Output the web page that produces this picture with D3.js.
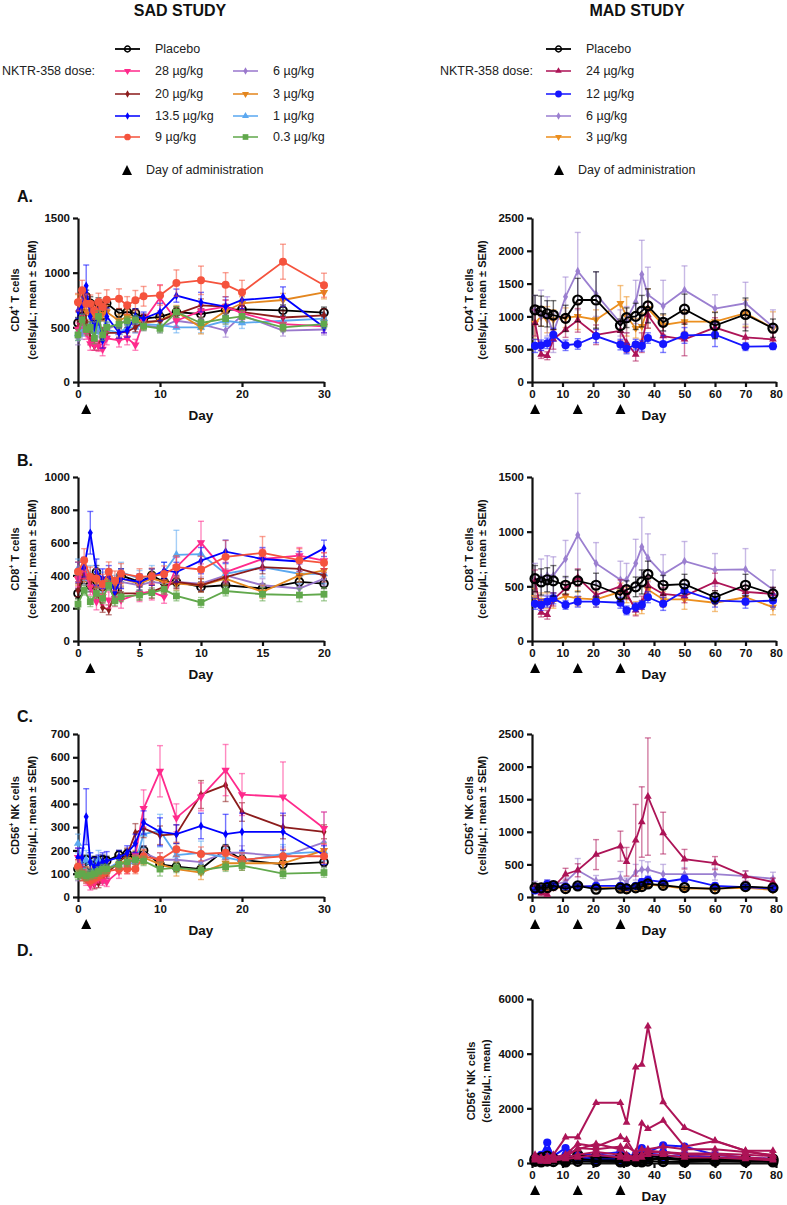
<!DOCTYPE html>
<html><head><meta charset="utf-8">
<script src="https://cdn.jsdelivr.net/npm/d3@7"></script>
<style>
body{margin:0;background:#fff}
svg text{font-family:"Liberation Sans",Arial,Helvetica,sans-serif}
</style>
</head><body>
<svg id="c" width="787" height="1205"></svg>
<script>
// ---------------- DATA ----------------
const sadGroups = ["Placebo","28 µg/kg","20 µg/kg","13.5 µg/kg","9 µg/kg","6 µg/kg","3 µg/kg","1 µg/kg","0.3 µg/kg"];
const madGroups = ["Placebo","24 µg/kg","12 µg/kg","6 µg/kg","3 µg/kg"];
const sadDays30 = [0,0.5,1,1.5,2,2.5,3,3.5,5,6,7,8,10,12,15,18,20,25,30];
const sadDays20 = [0,0.5,1,1.5,2,2.5,3,3.5,5,6,7,8,10,12,15,18,20];
const madDays = [1,3,5,7,11,15,21,29,31,34,36,38,43,50,60,70,79];
const sadDosingDays = [1];
const madDosingDays = [1,15,29];
const sadXTicks30 = [0,10,20,30];
const sadXTicks20 = [0,5,10,15,20];
const madXTicks = [0,10,20,30,40,50,60,70,80];
const yTicksSadCD4 = [0,500,1000,1500];
const yTicksSadCD8 = [0,200,400,600,800,1000];
const yTicksSadNK = [0,100,200,300,400,500,600,700];
const yTicksMadCD4 = [0,500,1000,1500,2000,2500];
const yTicksMadCD8 = [0,500,1000,1500];
const yTicksMadNK = [0,500,1000,1500,2000,2500];
const yTicksMadNKIndiv = [0,2000,4000,6000];

// SAD CD4 (order = sadGroups)
const sadCD4Means = [
 [540,600,780,720,600,720,610,720,630,640,630,580,595,640,620,660,665,655,635],
 [480,550,450,350,340,330,300,400,380,400,340,560,770,560,650,690,630,530,510],
 [500,600,550,400,330,330,450,450,450,460,500,550,560,620,700,690,640,590,610],
 [650,700,880,600,500,600,380,600,450,470,600,580,640,790,730,690,750,780,500],
 [730,840,716,716,655,732,686,753,762,701,747,784,793,905,930,890,820,1100,885],
 [400,450,480,460,450,470,430,480,530,570,500,520,500,560,530,470,610,470,480],
 [720,680,650,620,600,650,620,640,560,600,580,540,560,640,500,650,720,750,820],
 [440,480,500,520,460,500,420,480,450,500,500,530,520,500,500,560,540,560,580],
 [430,570,480,500,400,600,430,500,530,560,570,510,490,640,540,580,600,500,530]];
const sadCD4Sems = [
 [50,60,60,60,50,50,50,50,40,40,40,40,40,50,50,50,50,50,50],
 [60,60,60,60,50,50,60,60,60,60,50,60,120,60,60,60,60,60,60],
 [60,60,60,60,40,40,50,50,40,40,40,50,50,60,60,60,60,60,60],
 [70,80,190,100,80,80,70,80,50,60,70,60,80,60,90,90,80,90,50],
 [80,90,90,80,80,80,70,90,90,80,90,90,90,120,130,110,110,160,110],
 [60,60,60,60,60,60,60,60,50,50,50,50,50,50,50,60,60,50,50],
 [80,80,80,70,70,70,60,60,60,60,60,60,60,60,60,60,60,60,60],
 [60,60,60,60,60,60,60,60,50,50,50,50,50,50,50,50,50,50,50],
 [50,50,50,50,50,50,50,50,40,40,40,40,40,50,50,50,50,40,40]];

// SAD CD8
const sadCD8Means = [
 [290,390,340,420,330,370,310,400,360,400,360,360,330,340,320,360,350],
 [380,440,330,240,270,250,260,250,290,300,270,450,600,420,500,520,490],
 [310,420,360,290,205,190,290,290,290,300,330,360,340,390,450,440,400],
 [420,450,660,420,380,400,300,380,360,390,430,420,490,545,500,485,565],
 [422,493,391,381,347,422,367,412,391,395,408,450,436,513,537,493,477],
 [360,380,350,330,330,350,320,360,340,360,350,360,350,400,340,320,380],
 [380,400,370,360,350,380,340,380,350,380,360,350,340,380,300,400,430],
 [440,430,400,380,360,380,340,420,380,400,420,525,530,410,450,410,410],
 [225,310,240,290,260,340,245,270,280,295,315,275,235,305,285,280,285]];
const sadCD8Sems = [
 [30,40,40,40,40,40,40,40,30,40,30,30,30,30,30,30,30],
 [50,60,50,50,50,50,50,50,50,50,40,60,130,60,60,50,50],
 [40,40,40,40,30,30,40,40,40,40,40,40,40,40,40,40,40],
 [60,60,130,80,60,60,60,60,50,50,50,60,80,70,70,60,50],
 [60,70,60,60,60,60,60,60,50,50,50,70,80,100,100,70,60],
 [40,40,40,40,40,40,40,40,40,40,40,40,40,40,40,40,40],
 [40,40,40,40,40,40,40,40,40,40,40,40,40,40,40,40,40],
 [60,60,60,60,60,60,60,60,50,60,60,150,80,60,60,60,60],
 [30,30,30,30,30,30,30,30,30,30,30,30,30,30,40,40,40]];

// SAD CD56 NK
const sadNKMeans = [
 [120,130,160,135,155,150,160,155,180,185,175,200,140,130,120,205,160,140,150],
 [170,110,80,50,60,80,70,65,110,130,180,380,540,340,430,545,440,430,295],
 [130,100,80,70,55,60,80,100,150,180,275,295,265,270,440,480,365,300,280],
 [170,170,345,150,130,140,150,155,170,190,230,320,280,270,305,270,280,280,180],
 [130,100,80,70,80,90,100,110,120,120,120,175,160,205,185,190,160,175,175],
 [100,110,100,95,100,110,120,120,140,150,160,190,160,160,150,190,190,175,235],
 [120,110,100,95,100,110,120,120,140,160,170,170,140,120,105,145,145,145,200],
 [230,130,160,150,120,160,100,120,150,140,150,270,285,180,190,170,155,185,195],
 [95,100,90,95,100,110,120,120,140,150,160,155,120,125,115,130,135,100,105]];
const sadNKSems = [
 [20,20,20,20,20,20,20,20,20,20,20,20,20,20,20,20,20,20,20],
 [40,30,30,20,20,20,20,20,30,30,40,80,110,60,60,110,90,150,70],
 [30,30,20,20,20,20,20,20,30,30,40,40,40,40,60,70,40,50,30],
 [40,40,120,40,40,40,40,40,30,30,40,50,60,40,55,85,80,80,40],
 [30,30,20,20,20,20,20,20,20,20,20,30,30,30,30,30,30,30,30],
 [30,30,30,30,30,30,30,30,30,30,30,30,30,30,30,30,30,40,130],
 [30,30,30,30,30,30,30,30,30,30,30,30,30,30,30,30,30,30,30],
 [40,40,40,40,40,40,40,40,30,30,30,60,70,50,50,40,40,40,40],
 [20,20,20,20,20,20,20,20,20,20,20,20,30,20,20,20,20,20,20]];

// MAD CD4 (order = madGroups)
const madCD4Means = [
 [1100,1080,1040,1020,970,1250,1250,860,980,1000,1080,1160,910,1110,860,1030,820],
 [900,420,400,650,800,940,720,780,600,420,600,1020,700,650,830,680,650],
 [550,560,590,720,560,580,700,570,510,570,550,670,580,710,720,540,545],
 [1100,1000,1000,750,1300,1690,1340,900,950,1220,1640,1330,1160,1400,1120,1200,840],
 [900,1000,950,950,980,1000,950,1200,1000,820,850,1120,870,920,920,1050,820]];
const madCD4Sems = [
 [220,230,200,220,200,330,430,100,150,200,240,260,130,230,200,250,140],
 [200,60,60,150,120,180,150,150,150,100,150,200,150,250,150,150,100],
 [100,80,80,100,80,80,100,80,80,80,80,80,130,120,180,60,50],
 [220,400,300,300,300,590,340,200,200,330,520,420,390,370,210,320,260],
 [250,150,200,150,150,200,150,270,300,150,200,300,150,150,150,200,250]];

// MAD CD8
const madCD8Means = [
 [570,540,560,550,510,550,510,420,470,495,540,610,510,520,400,510,430],
 [550,260,240,380,480,580,420,500,440,280,350,510,430,410,540,450,430],
 [340,330,360,390,330,360,360,350,280,310,330,400,340,460,370,360,370],
 [560,580,600,600,750,970,710,560,560,710,860,760,610,730,650,655,470],
 [400,370,370,370,410,390,380,450,420,300,310,470,380,380,350,400,310]];
const madCD8Sems = [
 [120,120,110,140,80,100,110,60,80,90,110,120,90,90,60,100,60],
 [100,40,40,60,60,80,60,60,60,50,60,80,60,60,80,60,60],
 [50,50,50,50,40,50,50,50,40,40,40,50,60,60,60,60,60],
 [150,170,180,170,170,380,190,170,150,220,270,220,180,180,150,190,180],
 [80,70,70,70,70,70,70,80,70,60,60,80,70,90,80,70,70]];

// MAD CD56 NK
const madNKMeans = [
 [140,140,145,175,130,170,120,135,125,140,160,200,180,145,125,160,140],
 [150,60,40,150,350,410,650,780,540,870,1150,1540,980,580,520,320,230],
 [100,120,200,170,160,160,170,170,150,170,230,260,230,280,170,150,130],
 [180,150,200,190,230,410,250,290,230,380,420,420,350,350,350,320,280],
 [110,110,120,150,130,170,150,130,120,140,160,190,170,130,130,140,110]];
const madNKSems = [
 [30,30,30,30,30,30,20,30,20,30,30,40,30,30,20,30,30],
 [50,40,30,50,90,100,230,230,220,550,540,900,320,150,100,80,60],
 [30,30,60,40,30,30,30,30,30,30,50,60,40,60,40,30,30],
 [60,60,60,60,60,180,80,100,60,120,140,120,150,100,90,80,100],
 [30,30,30,30,30,30,30,30,30,30,30,40,30,30,30,30,30]];

// MAD individual subjects (panel D)
const madIndiv24 = [
 [300,200,250,300,940,940,2200,2200,1480,3500,3600,5000,2230,1290,820,450,250],
 [200,100,150,200,300,700,600,950,850,300,1450,1250,1550,600,800,450,450],
 [250,150,100,150,300,500,700,500,600,400,500,500,600,500,500,400,300],
 [200,100,100,150,200,550,500,600,300,200,300,450,400,350,350,300,250],
 [150,100,50,100,200,300,400,300,200,200,300,400,400,300,300,200,150],
 [100,50,50,100,150,200,300,200,150,150,200,300,300,200,200,150,100]];
const madIndiv12 = [
 [200,300,750,250,550,300,300,400,250,300,550,400,650,600,300,200,150],
 [150,200,450,200,300,200,250,250,200,250,300,350,400,300,200,150,100],
 [100,150,300,150,200,150,150,150,100,150,200,250,250,250,150,100,100],
 [50,100,150,100,100,100,100,100,80,100,150,150,150,150,100,80,80]];
const madIndivPlacebo = [
 [150,200,250,150,150,300,200,200,150,150,200,250,200,150,150,150,150],
 [100,100,100,150,100,150,100,100,100,100,100,150,150,100,100,100,100],
 [60,40,70,50,40,60,50,40,60,50,40,70,50,40,60,50,40]];

// ---------------- STYLE ----------------
const sadStyle = [
 {c:"#000000", m:"circle", open:true, s:48},
 {c:"#ff2a8c", m:"tridown", s:30},
 {c:"#8c1c1c", m:"diamond", s:22},
 {c:"#0000ff", m:"diamond", s:22},
 {c:"#f5533d", m:"circle", s:50},
 {c:"#9a78cc", m:"diamond", s:22},
 {c:"#e3861f", m:"tridown", s:30},
 {c:"#5ba8f0", m:"tri", s:30},
 {c:"#61a84c", m:"square", s:46}];
const madStyle = [
 {c:"#000000", m:"circle", open:true, s:64, sw:2.2},
 {c:"#ad1457", m:"tri", s:26},
 {c:"#1515ff", m:"circle", s:52},
 {c:"#9b7fd0", m:"diamond", s:22},
 {c:"#ec8f1f", m:"tridown", s:28}];
const sadOrder = [0,5,7,6,2,1,3,4,8];
const madOrder = [4,3,1,2,0];

const svg = d3.select("#c");
const FONT = '"Liberation Sans",Arial,sans-serif';
const INK = "#111";

function symPath(m, s){
  const t = {circle:d3.symbolCircle, tri:d3.symbolTriangle, tridown:d3.symbolTriangle,
             diamond:d3.symbolDiamond, square:d3.symbolSquare}[m];
  return d3.symbol(t, s)();
}
function drawMarker(g, st, cx, cy){
  const p = g.append("path").attr("d", symPath(st.m, st.s))
    .attr("transform", `translate(${cx},${cy})` + (st.m==="tridown" ? " rotate(180)" : ""));
  if (st.open) p.attr("fill","none").attr("stroke", st.c).attr("stroke-width", st.sw || 1.8);
  else p.attr("fill", st.c);
}

function axes(g, x, y, xTicks, yTicks, x0, yb){
  const fmt = d3.format("d");
  const ax = g.append("g").attr("transform",`translate(0,${yb})`)
    .call(d3.axisBottom(x).tickValues(xTicks).tickFormat(fmt).tickSize(5).tickSizeOuter(0).tickPadding(3));
  const ay = g.append("g").attr("transform",`translate(${x0},0)`)
    .call(d3.axisLeft(y).tickValues(yTicks).tickFormat(fmt).tickSize(5).tickSizeOuter(0).tickPadding(3));
  [ax, ay].forEach(a=>{
    a.select(".domain").attr("stroke",INK).attr("stroke-width",2.2);
    a.selectAll(".tick line").attr("stroke",INK).attr("stroke-width",2.2);
    a.selectAll(".tick text").attr("fill",INK).attr("font-size",11.5).attr("font-weight","bold").attr("font-family",FONT);
  });
}

function yTitle(g, cx1, cx2, cy, line1main, line1tail, line2){
  const t1 = g.append("text").attr("transform",`translate(${cx1},${cy}) rotate(-90)`)
    .attr("text-anchor","middle").attr("dominant-baseline","central")
    .attr("font-size",11).attr("font-weight","bold").attr("fill",INK);
  t1.append("tspan").text(line1main);
  t1.append("tspan").attr("font-size",7).attr("dy",-4).text("+");
  t1.append("tspan").attr("dy",4).text(line1tail);
  g.append("text").attr("transform",`translate(${cx2},${cy}) rotate(-90)`)
    .attr("text-anchor","middle").attr("dominant-baseline","central")
    .attr("font-size",11).attr("font-weight","bold").attr("fill",INK).text(line2);
}

function dayLabelAndDoses(g, x, x0, x1, yb, doses){
  g.append("text").attr("x",(x0+x1)/2).attr("y",yb+38).attr("text-anchor","middle")
    .attr("font-size",13.5).attr("font-weight","bold").attr("fill",INK).text("Day");
  doses.forEach(d=>{
    const cx = x(d), cy = yb+27;
    g.append("path").attr("d",`M${cx-5},${cy+5}L${cx+5},${cy+5}L${cx},${cy-5}Z`).attr("fill","#000");
  });
}

function meanPanel(o){
  const g = svg.append("g");
  const x = d3.scaleLinear().domain(o.xDomain).range([o.x0,o.x1]);
  const y = d3.scaleLinear().domain(o.yDomain).range([o.yb,o.yt]);
  axes(g, x, y, o.xTicks, o.yTicks, o.x0, o.yb);
  const line = d3.line().x((d)=>x(d[0])).y((d)=>y(d[1]));
  o.order.forEach(i=>{
    const st = o.styles[i], m = o.means[i], s = o.sems[i];
    const eg = g.append("g").attr("stroke", st.c).attr("stroke-opacity",0.55).attr("stroke-width",1.4);
    o.days.forEach((d,k)=>{
      const cx = x(d), yl = y(Math.max(0,m[k]-s[k])), yh = y(m[k]+s[k]);
      eg.append("line").attr("x1",cx).attr("x2",cx).attr("y1",yl).attr("y2",yh);
      eg.append("line").attr("x1",cx-3).attr("x2",cx+3).attr("y1",yh).attr("y2",yh);
      eg.append("line").attr("x1",cx-3).attr("x2",cx+3).attr("y1",yl).attr("y2",yl);
    });
    g.append("path").datum(o.days.map((d,k)=>[d,m[k]])).attr("d",line)
      .attr("fill","none").attr("stroke",st.c).attr("stroke-width",1.8);
    const mg = g.append("g");
    o.days.forEach((d,k)=>drawMarker(mg, st, x(d), y(m[k])));
  });
  yTitle(g, o.x0+o.t1, o.x0+o.t2, (o.yt+o.yb)/2, o.lab[0], o.lab[1], o.lab[2]);
  dayLabelAndDoses(g, x, o.x0, o.x1, o.yb, o.doses);
}

const L = {x0:78, x1:324}, R = {x0:532, x1:776};
const PA = {yt:218, yb:382}, PB = {yt:477, yb:641}, PC = {yt:734, yb:897}, PD = {yt:999, yb:1163};
const semLab = "(cells/µL; mean ± SEM)";

meanPanel({...L,...PA, xDomain:[0,30], xTicks:sadXTicks30, yDomain:[0,1500], yTicks:yTicksSadCD4,
  days:sadDays30, means:sadCD4Means, sems:sadCD4Sems, styles:sadStyle, order:sadOrder,
  lab:["CD4"," T cells",semLab], t1:-63, t2:-46, doses:sadDosingDays});
meanPanel({...L,...PB, xDomain:[0,20], xTicks:sadXTicks20, yDomain:[0,1000], yTicks:yTicksSadCD8,
  days:sadDays20, means:sadCD8Means, sems:sadCD8Sems, styles:sadStyle, order:sadOrder,
  lab:["CD8"," T cells",semLab], t1:-63, t2:-46, doses:sadDosingDays});
meanPanel({...L,...PC, xDomain:[0,30], xTicks:sadXTicks30, yDomain:[0,700], yTicks:yTicksSadNK,
  days:sadDays30, means:sadNKMeans, sems:sadNKSems, styles:sadStyle, order:sadOrder,
  lab:["CD56"," NK cells",semLab], t1:-63, t2:-46, doses:sadDosingDays});
meanPanel({...R,...PA, xDomain:[0,80], xTicks:madXTicks, yDomain:[0,2500], yTicks:yTicksMadCD4,
  days:madDays, means:madCD4Means, sems:madCD4Sems, styles:madStyle, order:madOrder,
  lab:["CD4"," T cells",semLab], t1:-63, t2:-50, doses:madDosingDays});
meanPanel({...R,...PB, xDomain:[0,80], xTicks:madXTicks, yDomain:[0,1500], yTicks:yTicksMadCD8,
  days:madDays, means:madCD8Means, sems:madCD8Sems, styles:madStyle, order:madOrder,
  lab:["CD8"," T cells",semLab], t1:-63, t2:-50, doses:madDosingDays});
meanPanel({...R,...PC, xDomain:[0,80], xTicks:madXTicks, yDomain:[0,2500], yTicks:yTicksMadNK,
  days:madDays, means:madNKMeans, sems:madNKSems, styles:madStyle, order:madOrder,
  lab:["CD56"," NK cells",semLab], t1:-63, t2:-50, doses:madDosingDays});

// Panel D: individual subjects
(function(){
  const o = {...R,...PD};
  const g = svg.append("g");
  const x = d3.scaleLinear().domain([0,80]).range([o.x0,o.x1]);
  const y = d3.scaleLinear().domain([0,6000]).range([o.yb,o.yt]);
  axes(g, x, y, madXTicks, yTicksMadNKIndiv, o.x0, o.yb);
  const line = d3.line().x((d)=>x(d[0])).y((d)=>y(d[1]));
  const sets = [[madIndiv12, madStyle[2]], [madIndivPlacebo, madStyle[0]], [madIndiv24, madStyle[1]]];
  sets.forEach(([subs, st])=>{
    subs.forEach(vals=>{
      g.append("path").datum(madDays.map((d,k)=>[d,vals[k]])).attr("d",line)
        .attr("fill","none").attr("stroke",st.c).attr("stroke-width",2);
      madDays.forEach((d,k)=>drawMarker(g, st, x(d), y(vals[k])));
    });
  });
  yTitle(g, o.x0-61, o.x0-46, (o.yt+o.yb)/2, "CD56", " NK cells", "(cells/µL; mean)");
  dayLabelAndDoses(g, x, o.x0, o.x1, o.yb, madDosingDays);
})();

// Panel letters
[["A.",196],["B.",460],["C.",716],["D.",950]].forEach(([t,yc])=>{
  svg.append("text").attr("x",17).attr("y",yc+6).attr("font-size",16).attr("font-weight","bold")
    .attr("fill",INK).text(t);
});

// Headers
svg.append("text").attr("x",180).attr("y",16).attr("text-anchor","middle").attr("font-size",16)
  .attr("font-weight","bold").attr("fill",INK).text("SAD STUDY");
svg.append("text").attr("x",637).attr("y",16).attr("text-anchor","middle").attr("font-size",16)
  .attr("font-weight","bold").attr("fill",INK).text("MAD STUDY");

// Legends
function legendItem(lx, ly, st, label){
  const g = svg.append("g");
  g.append("line").attr("x1",lx).attr("x2",lx+25).attr("y1",ly).attr("y2",ly)
    .attr("stroke",st.c).attr("stroke-width",1.8).attr("stroke-opacity", st.open?1:0.85);
  const s2 = {...st, s: st.open ? 26 : st.s*0.7, sw:1.5};
  drawMarker(g, s2, lx+12.5, ly);
  g.append("text").attr("x",lx+40).attr("y",ly).attr("dominant-baseline","central")
    .attr("font-size",12.5).attr("fill","#222").text(label);
}
const rowsY = [49,71,94,116,137];
legendItem(115, rowsY[0], sadStyle[0], sadGroups[0]);
[1,2,3,4].forEach((i,k)=>legendItem(115, rowsY[k+1], sadStyle[i], sadGroups[i]));
[5,6,7,8].forEach((i,k)=>legendItem(233, rowsY[k+1], sadStyle[i], sadGroups[i]));
svg.append("text").attr("x",2).attr("y",71).attr("dominant-baseline","central")
  .attr("font-size",12.5).attr("fill","#222").text("NKTR-358 dose:");
madGroups.forEach((gname,i)=>legendItem(546, rowsY[i], madStyle[i], gname));
svg.append("text").attr("x",533).attr("y",71).attr("text-anchor","end").attr("dominant-baseline","central")
  .attr("font-size",12.5).attr("fill","#222").text("NKTR-358 dose:");
function doseLegend(tx, textX){
  svg.append("path").attr("d",`M${tx-5},175L${tx+5},175L${tx},165Z`).attr("fill","#000");
  svg.append("text").attr("x",textX).attr("y",170).attr("dominant-baseline","central")
    .attr("font-size",12.5).attr("fill","#222").text("Day of administration");
}
doseLegend(127,146);
doseLegend(559,578);
</script>
</body></html>
